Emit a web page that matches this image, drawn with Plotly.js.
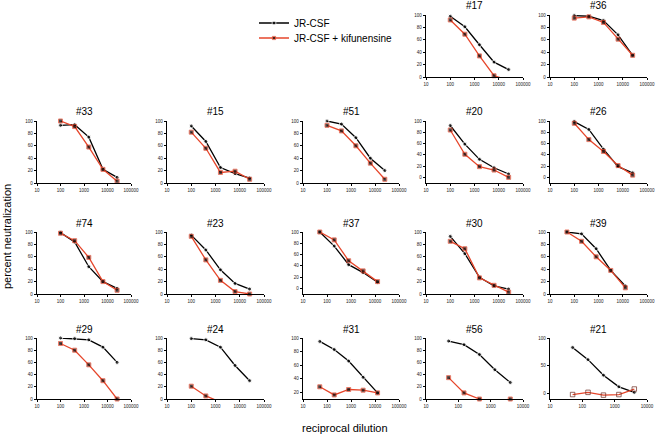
<!DOCTYPE html>
<html>
<head>
<meta charset="utf-8">
<script src="https://cdn.plot.ly/plotly-3.0.1.min.js"></script>
<style>
html,body{margin:0;padding:0;background:#fff;}
#chart{width:656px;height:439px;}
</style>
</head>
<body>
<div id="chart"></div>
<script>
// ---------------- data ----------------
const panelNames = ['#17','#36','#33','#15','#51','#20','#26','#74','#23','#37','#30','#39','#29','#24','#31','#56','#21'];
const dil100 = [100, 400, 1600, 6400, 25600];
const dil50 = [50, 200, 800, 3200, 12800];
const dil50x3 = [50, 150, 450, 1350, 4050];
const panelDilutions = [dil100, dil100, dil100, dil100, dil100, dil100, dil100, dil100, dil100, dil50, dil100, dil50, dil100, dil100, dil50, dil50x3, dil50x3];
const seriesNames = ['JR-CSF', 'JR-CSF + kifunensine'];
const jrcsf = [
  [98, 81, 52, 24, 12],
  [99, 98, 91, 68, 35],
  [93, 94, 74, 22, 9],
  [92, 67, 25, 15, 8],
  [100, 95, 73, 40, 20],
  [92, 59, 32, 17, 6],
  [99, 85, 50, 19, 8],
  [99, 84, 44, 20, 9],
  [95, 71, 39, 17, 8],
  [100, 75, 42, 28, 11],
  [93, 65, 27, 13, 8],
  [100, 97, 73, 38, 13],
  [100, 99, 97, 85, 60],
  [99, 97, 85, 55, 30],
  [95, 83, 66, 42, 19],
  [95, 89, 73, 48, 27],
  [83, 61, 33, 12, 2]
];
const kifunensine = [
  [92, 69, 34, 2, -5],
  [95, 97, 88, 61, 35],
  [100, 91, 58, 22, 3],
  [82, 56, 17, 19, 6],
  [93, 84, 60, 32, 6],
  [84, 41, 19, 13, 0],
  [96, 67, 46, 21, 4],
  [98, 86, 59, 20, 6],
  [93, 55, 22, 4, 0],
  [100, 86, 49, 31, 12],
  [85, 73, 26, 14, 3],
  [100, 85, 60, 38, 10],
  [91, 80, 56, 30, 0],
  [21, 5, -5, -8, -10],
  [28, 16, 24, 23, 19],
  [35, 10, 0, -5, 0],
  [-2, 2, -3, -2, 8]
];
const yAxisMin = [0, 0, 0, 0, 0, -10, -10, 0, 0, -10, 0, 0, 0, 0, 10, 0, -10];
const xAxisMaxTick = [100000,100000,100000,100000,100000,100000,100000,100000,100000,100000,100000,100000,100000,100000,100000,10000,10000];
const yTicksDefault = [0, 20, 40, 60, 80, 100];
const yTicksCoarse = [0, 50, 100];
const xTicksAll = [10, 100, 1000, 10000, 100000];

// ---------------- layout geometry (pixels) ----------------
const W = 656, H = 439;
const rowsPx = [[15, 77], [121, 183], [232, 294], [338, 399]];
const colsPx = [[37, 131], [167, 264], [303, 399], [426, 523], [550, 647]];
const panelCell = [[0,3],[0,4],[1,0],[1,1],[1,2],[1,3],[1,4],[2,0],[2,1],[2,2],[2,3],[2,4],[3,0],[3,1],[3,2],[3,3],[3,4]];
const coarsePanels = ['#21'];
const openMarkerPanels = ['#21'];

const FONT = 'Liberation Sans, Arial, Helvetica, sans-serif';
const RED = '#e6462b';

const legendBase = {
  x: 254 / W, xanchor: 'left', yanchor: 'middle',
  font: {family: FONT, size: 10, color: '#000'},
  bgcolor: 'rgba(0,0,0,0)', itemwidth: 30, tracegroupgap: 0
};

const traces = [];
const layout = {
  width: W, height: H,
  margin: {l: 0, r: 0, t: 0, b: 0},
  paper_bgcolor: '#fff', plot_bgcolor: 'rgba(0,0,0,0)',
  font: {family: FONT, color: '#000'},
  showlegend: true,
  legend: Object.assign({}, legendBase, {y: 1 - 23 / H}),
  legend2: Object.assign({}, legendBase, {y: 1 - 38 / H}),
  annotations: [],
  hovermode: false
};

panelNames.forEach((name, i) => {
  const n = i + 1;
  const xa = 'xaxis' + (n === 1 ? '' : n);
  const ya = 'yaxis' + (n === 1 ? '' : n);
  const xr = 'x' + (n === 1 ? '' : n);
  const yr = 'y' + (n === 1 ? '' : n);
  const [r, c] = panelCell[i];
  const [top, bot] = rowsPx[r];
  const [left, right] = colsPx[c];
  const ymin = yAxisMin[i];
  const xmax = xAxisMaxTick[i];
  const xt = xTicksAll.filter(v => v <= xmax);
  const yt = (coarsePanels.includes(name) ? yTicksCoarse : yTicksDefault).filter(v => v >= ymin);
  const inRange = v => v >= ymin && v <= 100;

  layout[xa] = {
    domain: [left / W, right / W],
    anchor: yr, type: 'log',
    range: [1, Math.log10(xmax)],
    tickvals: xt, ticktext: xt.map(String),
    ticks: 'outside', ticklen: 2, tickwidth: 1, tickcolor: '#000',
    tickfont: {family: FONT, size: 4.5, color: '#222'},
    showline: true, linecolor: '#000', linewidth: 1.4,
    showgrid: false, zeroline: false, fixedrange: true
  };
  layout[ya] = {
    domain: [1 - bot / H, 1 - top / H],
    anchor: xr,
    range: [ymin, 100],
    tickvals: yt, ticktext: yt.map(String),
    ticks: 'outside', ticklen: 2, tickwidth: 1, tickcolor: '#000',
    tickfont: {family: FONT, size: 4.5, color: '#222'},
    showline: true, linecolor: '#000', linewidth: 1.4,
    showgrid: false, zeroline: false, fixedrange: true
  };

  const xs = panelDilutions[i];
  const redOpen = openMarkerPanels.includes(name);
  traces.push({
    type: 'scatter', mode: 'lines+markers', x: xs, y: jrcsf[i],
    xaxis: xr, yaxis: yr, name: seriesNames[0], legend: 'legend',
    showlegend: i === 0, cliponaxis: false,
    line: {color: '#000', width: 1.3},
    marker: {symbol: 'circle', color: '#000', size: jrcsf[i].map(v => inRange(v) ? 4 : 0)}
  });
  traces.push({
    type: 'scatter', mode: 'lines+markers', x: xs, y: kifunensine[i],
    xaxis: xr, yaxis: yr, name: seriesNames[1], legend: 'legend2',
    showlegend: i === 0, cliponaxis: false,
    line: {color: RED, width: 1.3},
    marker: redOpen
      ? {symbol: 'square-open', color: '#6b2a20', size: kifunensine[i].map(v => inRange(v) ? 4.5 : 0), line: {width: 1}}
      : {symbol: 'square', color: '#000', size: kifunensine[i].map(v => inRange(v) ? 4 : 0)}
  });

  layout.annotations.push({
    text: name, xref: 'paper', yref: 'paper',
    x: (left + right) / 2 / W, y: 1 - (top - 9) / H,
    xanchor: 'center', yanchor: 'middle', showarrow: false,
    font: {family: FONT, size: 10, color: '#000'}
  });
});

layout.annotations.push({
  text: 'percent neutralization', xref: 'paper', yref: 'paper',
  x: 7 / W, y: 1 - 237 / H, xanchor: 'center', yanchor: 'middle',
  textangle: -90, showarrow: false,
  font: {family: FONT, size: 11, color: '#000'}
});
layout.annotations.push({
  text: 'reciprocal dilution', xref: 'paper', yref: 'paper',
  x: 345 / W, y: 1 - 428 / H, xanchor: 'center', yanchor: 'middle',
  showarrow: false,
  font: {family: FONT, size: 11, color: '#000'}
});

Plotly.newPlot('chart', traces, layout, {displayModeBar: false, staticPlot: true});
</script>
</body>
</html>
